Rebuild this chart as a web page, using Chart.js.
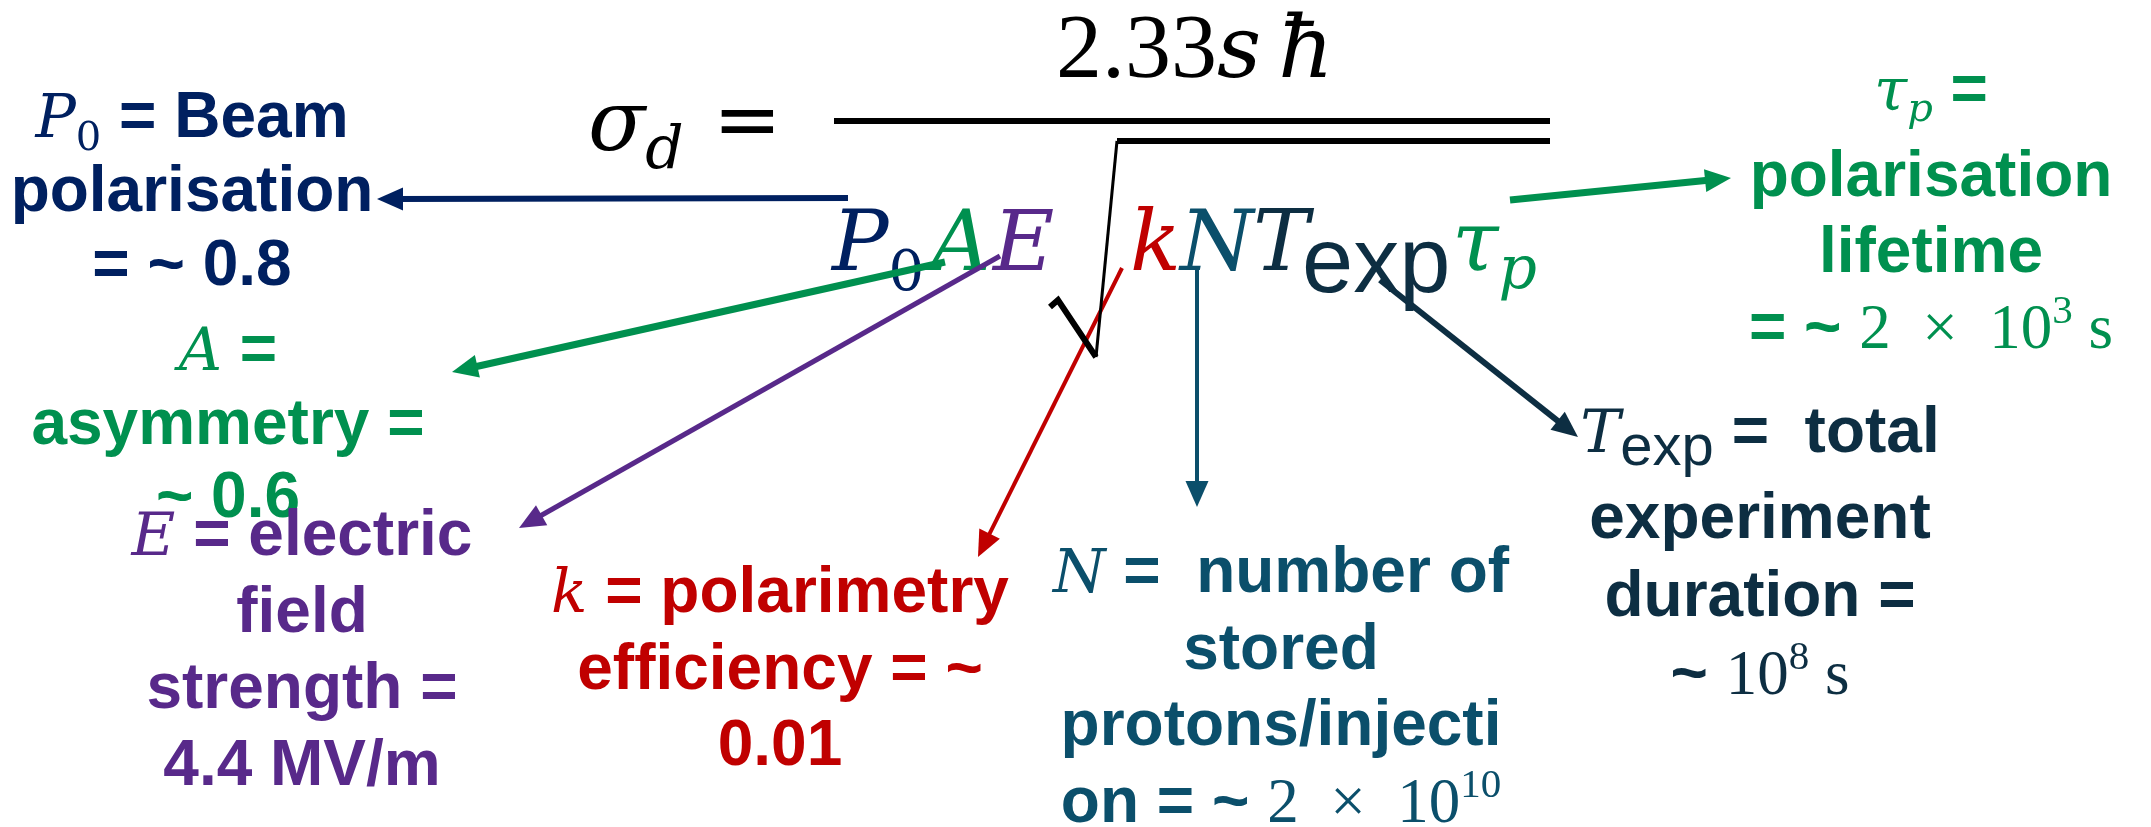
<!DOCTYPE html>
<html lang="en">
<head>
<meta charset="utf-8">
<title>sigma d</title>
<style>
  html, body { margin: 0; padding: 0; background: #ffffff; }
  #grafico { display: block; }
</style>
<script src="https://cdn.jsdelivr.net/npm/chart.js"></script>
</head>
<body>
<canvas id="grafico" width="2151" height="827"></canvas>
<script>
const ANCHO = 2151
const ALTO = 827

///DATOS: FLECHAS DESDE CADA SÍMBOLO HASTA SU ETIQUETA
const simbolos = ["P0", "A", "E", "k", "N", "Texp", "tau"]
const flechaInicioX = [848, 945, 1000, 1122, 1197, 1380, 1510]
const flechaInicioY = [198, 262, 256, 268, 268, 280, 200]
const flechaFinX = [377, 452, 519, 978, 1197, 1578, 1731]
const flechaFinY = [199, 372, 528, 557, 507, 437, 178]

///DATOS: TRAZOS DE LA FÓRMULA (barra de fracción y raíz)
const barraX = [834, 1550]
const barraY = [121, 121]
const raizGanchoX = [1050, 1058, 1096]
const raizGanchoY = [307, 300, 357]
const raizTrazoX = [1096, 1117]
const raizTrazoY = [357, 141]
const raizTechoX = [1117, 1550]
const raizTechoY = [141, 141]

///DATOS: TEXTOS (cada línea = lista de [estilo, texto])
const textoP0 = [
    [["mat", "P"], ["subr", "0"], ["neg", " = Beam"]],
    [["neg", "polarisation"]],
    [["neg", "= ~ 0.8"]],
]
const textoA = [
    [["mat", "A"], ["neg", " ="]],
    [["neg", "asymmetry ="]],
    [["neg", "~ 0.6"]],
]
const textoE = [
    [["mat", "E"], ["neg", " = electric"]],
    [["neg", "field"]],
    [["neg", "strength ="]],
    [["neg", "4.4 MV/m"]],
]
const textoK = [
    [["mat", "k"], ["neg", " = polarimetry"]],
    [["neg", "efficiency = ~"]],
    [["neg", "0.01"]],
]
const textoN = [
    [["mat", "N"], ["neg", " =  number of"]],
    [["neg", "stored"]],
    [["neg", "protons/injecti"]],
    [["neg", "on = ~ "], ["rom", "2  ×  10"], ["sup", "10"]],
]
const textoT = [
    [["mat", "T"], ["subs", "exp"], ["neg", " =  total"]],
    [["neg", "experiment"]],
    [["neg", "duration ="]],
    [["neg", "~ "], ["rom", "10"], ["sup", "8"], ["rom", " s"]],
]
const textoTau = [
    [["mat", "τ"], ["subi", "p"], ["neg", " ="]],
    [["neg", "polarisation"]],
    [["neg", "lifetime"]],
    [["neg", "= ~ "], ["rom", "2  ×  10"], ["sup", "3"], ["rom", " s"]],
]
const etiquetas = [textoP0, textoA, textoE, textoK, textoN, textoT, textoTau]
const etiquetaX = [192, 228, 302, 780, 1281, 1760, 1931]
const etiquetaY = [137, 370, 555, 612, 592, 452, 110]

const formula = [
    [["Grom", "2.33"], ["Gsh", "s\u2009ħ"]],
    [["Gmat", "σ"], ["Gsubi", "d"]],
    [["Geq", "="]],
    [["Gmat", "P"], ["Gsub", "0"]],
    [["Gmat", "A"]],
    [["Gmat", "E"]],
    [["Gmat", "k"]],
    [["Gmat", "N"]],
    [["Gmat", "T"]],
    [["Gsans", "exp"]],
    [["Gmat", "τ"], ["Gsubi", "p"]],
]
const formulaX = [1056, 588, 713, 832, 930, 993, 1130, 1180, 1253, 1302, 1452]
const formulaY = [77, 150, 147, 270, 270, 270, 270, 270, 270, 270, 270]


///ESTILOS
const NAVY = "#002060"
const VERDE = "#00904f"
const MORADO = "#58298a"
const ROJO = "#c00000"
const AZUL = "#0b4f6b"
const OSCURO = "#0d2e42"
const NEGRO = "#000000"

const coloresFlecha = [NAVY, VERDE, MORADO, ROJO, AZUL, OSCURO, VERDE]
const grosorFlecha = [6, 7, 5, 4, 4, 6, 7]
const coloresEtiqueta = [NAVY, VERDE, MORADO, ROJO, AZUL, OSCURO, VERDE]
const interlineado = [74, 73.5, 76.7, 76.5, 76.7, 78, 76]
const saltoPrimera = [0, 0, 0, 0, 0, 8, 10]
const coloresFormula = [NEGRO, NEGRO, NEGRO, NAVY, VERDE, MORADO, ROJO, AZUL, OSCURO, OSCURO, VERDE]

const SANS = "'Liberation Sans', Arial, sans-serif"
const SERIF = "'Liberation Serif', 'Times New Roman', serif"
const MATE = "'DejaVu Serif', serif"
const estilos = {
    neg: { font: `bold 64px ${SANS}`, dy: 0 },
    mat: { font: `italic 60px ${MATE}`, dy: 0 },
    rom: { font: `63px ${SERIF}`, dy: 0 },
    sup: { font: `41px ${SERIF}`, dy: -25 },
    subr: { font: `40px ${MATE}`, dy: 13 },
    subi: { font: `italic 40px ${MATE}`, dy: 11 },
    subs: { font: `58px ${SANS}`, dy: 13 },
    Gmat: { font: `italic 84px ${MATE}`, dy: 0 },
    Grom: { font: `92px ${SERIF}`, dy: 0 },
    Gsh: { font: `italic 86px ${MATE}`, dy: 0 },
    Geq: { font: `82px 'DejaVu Sans', sans-serif`, dy: 0 },
    Gsub: { font: `56px ${MATE}`, dy: 20 },
    Gsubi: { font: `italic 60px ${MATE}`, dy: 18 },
    Gsans: { font: `92px ${SANS}`, dy: 22 },
}

function puntos(xs, ys) {
    return xs.map((x, i) => ({ x: x, y: ys[i] }))
}

function trazo(xs, ys, color, ancho) {
    return {
        data: puntos(xs, ys),
        showLine: true,
        borderColor: color,
        borderWidth: ancho,
        pointRadius: 0,
        borderJoinStyle: "miter",
    }
}

const LARGO_PUNTA = 26
const ANCHO_PUNTA = 23

///LA LÍNEA DE CADA FLECHA TERMINA UN POCO ANTES DE LA PUNTA
const datasetsFlechas = simbolos.map((s, i) => {
    const dx = flechaFinX[i] - flechaInicioX[i]
    const dy = flechaFinY[i] - flechaInicioY[i]
    const d = Math.hypot(dx, dy)
    const corte = LARGO_PUNTA * 0.7
    return trazo(
        [flechaInicioX[i], flechaFinX[i] - dx / d * corte],
        [flechaInicioY[i], flechaFinY[i] - dy / d * corte],
        coloresFlecha[i], grosorFlecha[i]
    )
})

function dibujarLinea(ctx, segmentos, x, y, alinear) {
    let total = 0
    for (let [est, txt] of segmentos) {
        ctx.font = estilos[est].font
        total += ctx.measureText(txt).width
    }
    let cx = alinear === "center" ? x - total / 2 : x
    for (let [est, txt] of segmentos) {
        ctx.font = estilos[est].font
        ctx.fillText(txt, cx, y + estilos[est].dy)
        cx += ctx.measureText(txt).width
    }
}

///TEXTOS DEBAJO DE LAS FLECHAS
const pluginTextos = {
    id: "textos",
    beforeDatasetsDraw(chart) {
        const ctx = chart.ctx
        const sx = chart.scales.x
        const sy = chart.scales.y
        ctx.save()
        ctx.textBaseline = "alphabetic"
        ctx.textAlign = "left"

        formula.forEach((partes, i) => {
            ctx.fillStyle = coloresFormula[i]
            dibujarLinea(ctx, partes, sx.getPixelForValue(formulaX[i]), sy.getPixelForValue(formulaY[i]), "left")
        })

        etiquetas.forEach((lineas, i) => {
            ctx.fillStyle = coloresEtiqueta[i]
            lineas.forEach((segs, j) => {
                const base = etiquetaY[i] + (j > 0 ? saltoPrimera[i] : 0) + j * interlineado[i]
                dibujarLinea(ctx, segs, sx.getPixelForValue(etiquetaX[i]), sy.getPixelForValue(base), "center")
            })
        })
        ctx.restore()
    }
}

///PUNTAS DE FLECHA
const pluginPuntas = {
    id: "puntas",
    afterDatasetsDraw(chart) {
        const ctx = chart.ctx
        const sx = chart.scales.x
        const sy = chart.scales.y
        ctx.save()
        simbolos.forEach((s, i) => {
            const x0 = sx.getPixelForValue(flechaInicioX[i])
            const y0 = sy.getPixelForValue(flechaInicioY[i])
            const x1 = sx.getPixelForValue(flechaFinX[i])
            const y1 = sy.getPixelForValue(flechaFinY[i])
            const d = Math.hypot(x1 - x0, y1 - y0)
            const ux = (x1 - x0) / d
            const uy = (y1 - y0) / d
            const bx = x1 - ux * LARGO_PUNTA
            const by = y1 - uy * LARGO_PUNTA
            ctx.fillStyle = coloresFlecha[i]
            ctx.beginPath()
            ctx.moveTo(x1, y1)
            ctx.lineTo(bx - uy * ANCHO_PUNTA / 2, by + ux * ANCHO_PUNTA / 2)
            ctx.lineTo(bx + uy * ANCHO_PUNTA / 2, by - ux * ANCHO_PUNTA / 2)
            ctx.closePath()
            ctx.fill()
        })
        ctx.restore()
    }
}

const config = {
    type: "scatter",
    data: {
        datasets: [
            trazo(barraX, barraY, NEGRO, 6),
            trazo(raizGanchoX, raizGanchoY, NEGRO, 6),
            trazo(raizTrazoX, raizTrazoY, NEGRO, 3),
            trazo(raizTechoX, raizTechoY, NEGRO, 6),
            ...datasetsFlechas,
        ]
    },
    options: {
        responsive: false,
        devicePixelRatio: 1,
        animation: false,
        layout: { padding: 0 },
        scales: {
            x: { type: "linear", min: 0, max: ANCHO, display: false },
            y: { type: "linear", min: 0, max: ALTO, reverse: true, display: false },
        },
        plugins: {
            legend: { display: false },
            tooltip: { enabled: false },
        }
    },
    plugins: [pluginTextos, pluginPuntas]
}

new Chart(document.getElementById("grafico"), config)
</script>
</body>
</html>
